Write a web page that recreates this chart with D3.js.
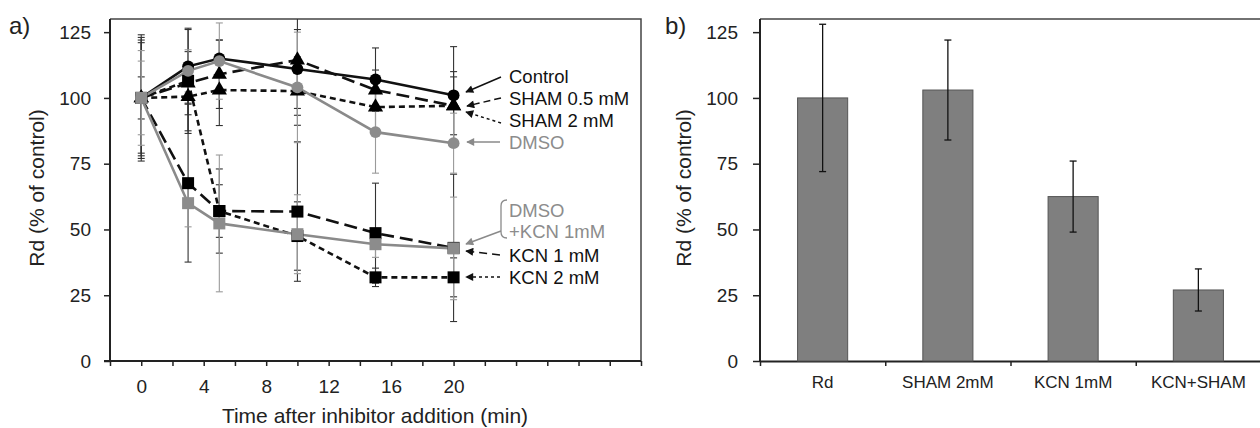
<!DOCTYPE html>
<html>
<head>
<meta charset="utf-8">
<script src="https://cdn.jsdelivr.net/npm/d3@7"></script>
<style>
  html, body { margin: 0; padding: 0; background: #fff; }
  svg { display: block; font-family: "Liberation Sans", Arial, sans-serif; }
</style>
</head>
<body>
<svg id="chart" width="1260" height="428"></svg>
<script>
// ---- Panel a: time course (mean and SD per treatment) ----
const times = [0, 3, 5, 10, 15, 20];

const controlMean = [100, 112, 115, 111, 107, 101];
const controlErr  = [22, 14, 7, 15, 12, 18.5];

const sham05Mean = [100, 105.6, 109, 114.4, 103, 97];
const sham05Err  = [24, 12, 13, 21, 7.6, 13];

const sham2Mean = [100, 100.5, 103, 102.6, 96.5, 97];
const sham2Err  = [21, 13, 13.5, 13, 10, 11];

const dmsoMean = [100, 110.3, 114, 104, 87, 82.8];
const dmsoErr  = [14, 8, 14.5, 21, 15.6, 11.4];

const kcn1Mean = [100, 67.6, 57, 56.8, 48.6, 43];
const kcn1Err  = [23, 30, 16, 26.5, 19, 28];

const kcn2Mean = [100, 106.5, 57, 47.5, 31.8, 31.8];
const kcn2Err  = [8, 20, 10, 13, 3.5, 7.4];

const dmsoKcnMean = [100, 60, 52.3, 48.2, 44.4, 42.8];
const dmsoKcnErr  = [18, 9, 26, 15, 5, 19.5];

const timeTicks = [0, 4, 8, 12, 16, 20];
const valueTicks = [0, 25, 50, 75, 100, 125];

// ---- Panel b: Rd after 20 min with inhibitors ----
const barCategories = ["Rd", "SHAM 2mM", "KCN 1mM", "KCN+SHAM"];
const barMeans = [100, 103, 62.5, 27];
const barErrs  = [28, 19, 13.5, 8];

const BLACK = "#111";
const GRAY = "#8a8a8a";

const series = [
  { name: "Control",        mean: controlMean, err: controlErr, color: BLACK, dash: null,     shape: "circle" },
  { name: "SHAM 0.5 mM",    mean: sham05Mean,  err: sham05Err,  color: BLACK, dash: "13,6",   shape: "triangle" },
  { name: "SHAM 2 mM",      mean: sham2Mean,   err: sham2Err,   color: BLACK, dash: "6,4",    shape: "triangle" },
  { name: "KCN 1 mM",       mean: kcn1Mean,    err: kcn1Err,    color: BLACK, dash: "13,6",   shape: "square" },
  { name: "KCN 2 mM",       mean: kcn2Mean,    err: kcn2Err,    color: BLACK, dash: "6,4",    shape: "square" },
  { name: "DMSO",           mean: dmsoMean,    err: dmsoErr,    color: GRAY,  dash: null,     shape: "circle" },
  { name: "DMSO+KCN 1mM",   mean: dmsoKcnMean, err: dmsoKcnErr, color: GRAY,  dash: null,     shape: "square" }
];

const svg = d3.select("#chart");
const FONT = "\"Liberation Sans\", Arial, sans-serif";

// arrowheads
const defs = svg.append("defs");
[["arrowBlack", BLACK], ["arrowGray", GRAY]].forEach(([id, c]) => {
  defs.append("marker")
    .attr("id", id)
    .attr("viewBox", "0 0 10 10")
    .attr("refX", 9).attr("refY", 5)
    .attr("markerWidth", 10).attr("markerHeight", 8)
    .attr("markerUnits", "userSpaceOnUse")
    .attr("orient", "auto")
    .append("path").attr("d", "M0,0 L10,5 L0,10 Z").attr("fill", c);
});

// ================= Panel a =================
const A = { left: 110, right: 641, top: 19, bottom: 361 };
const xA = d3.scaleLinear().domain([-2, 32]).range([A.left, A.right]);
const yA = d3.scaleLinear().domain([0, 130]).range([A.bottom, A.top]);

defs.append("clipPath").attr("id", "clipA")
  .append("rect").attr("x", A.left).attr("y", A.top)
  .attr("width", A.right - A.left).attr("height", A.bottom - A.top);

// frame (top + right)
svg.append("path")
  .attr("d", `M${A.left},${A.top} H${A.right} V${A.bottom}`)
  .attr("fill", "none").attr("stroke", "#444").attr("stroke-width", 1.5);

// y axis
const yAxisA = svg.append("g").attr("transform", `translate(${A.left},0)`)
  .call(d3.axisLeft(yA).tickValues(valueTicks).tickSizeInner(6).tickSizeOuter(0).tickPadding(13));
// x axis: ticks every 2 min, labels every 4 min
const xAxisA = svg.append("g").attr("transform", `translate(0,${A.bottom})`)
  .call(d3.axisBottom(xA).tickValues(d3.range(-2, 33, 2)).tickSizeInner(5).tickSizeOuter(0).tickPadding(14)
    .tickFormat(d => timeTicks.includes(d) ? d : ""));

[yAxisA, xAxisA].forEach(g => {
  g.select(".domain").attr("stroke", "#222").attr("stroke-width", 2);
  g.selectAll(".tick line").attr("stroke", "#222").attr("stroke-width", 1.5);
  g.selectAll("text").attr("font-family", FONT).attr("font-size", 19).attr("fill", "#222");
});
// the y axis line extends down to the x-axis tick level
yAxisA.select(".domain").attr("d", `M0,${A.top}V${A.bottom}`);
xAxisA.select(".domain").attr("d", `M${A.left - 6},0H${A.right}`);

svg.append("text")
  .attr("x", 375).attr("y", 423)
  .attr("text-anchor", "middle")
  .attr("font-family", FONT).attr("font-size", 21).attr("fill", "#222")
  .text("Time after inhibitor addition (min)");

svg.append("text")
  .attr("transform", "translate(44,188) rotate(-90)")
  .attr("text-anchor", "middle")
  .attr("font-family", FONT).attr("font-size", 21).attr("fill", "#222")
  .text("Rd (% of control)");

svg.append("text").attr("x", 9).attr("y", 34)
  .attr("font-family", FONT).attr("font-size", 24).attr("fill", "#222").text("a)");

const plotA = svg.append("g").attr("clip-path", "url(#clipA)");

// error bars
series.forEach(s => {
  const g = plotA.append("g")
    .attr("stroke", s.color === GRAY ? "#9a9a9a" : "#333")
    .attr("stroke-width", 1.1).attr("fill", "none");
  times.forEach((t, i) => {
    const cx = xA(t), hi = yA(s.mean[i] + s.err[i]), lo = yA(s.mean[i] - s.err[i]);
    g.append("line").attr("x1", cx).attr("x2", cx).attr("y1", hi).attr("y2", lo);
    g.append("line").attr("x1", cx - 3.5).attr("x2", cx + 3.5).attr("y1", hi).attr("y2", hi);
    g.append("line").attr("x1", cx - 3.5).attr("x2", cx + 3.5).attr("y1", lo).attr("y2", lo);
  });
});

// lines
const lineGen = d3.line().x((d, i) => xA(times[i])).y(d => yA(d));
series.forEach(s => {
  plotA.append("path")
    .datum(s.mean)
    .attr("d", lineGen)
    .attr("fill", "none")
    .attr("stroke", s.color)
    .attr("stroke-width", 2.6)
    .attr("stroke-dasharray", s.dash);
});

// markers
const symbolType = { circle: d3.symbolCircle, triangle: d3.symbolTriangle, square: d3.symbolSquare };
const symbolSize = { circle: 110, triangle: 100, square: 144 };
series.forEach(s => {
  const sym = d3.symbol().type(symbolType[s.shape]).size(symbolSize[s.shape]);
  plotA.append("g").selectAll("path")
    .data(s.mean)
    .join("path")
    .attr("transform", (d, i) => `translate(${xA(times[i])},${yA(d)})`)
    .attr("d", sym)
    .attr("fill", s.color === GRAY ? "#8c8c8c" : "#000");
});

// series labels with pointer arrows
const labelX = 509;
const notes = [
  { lines: ["Control"],           y: 76,  color: BLACK, dash: null,  from: [501, 77],  to: [466, 92] },
  { lines: ["SHAM 0.5 mM"],       y: 98,  color: BLACK, dash: "7,4", from: [501, 98],  to: [467, 106] },
  { lines: ["SHAM 2 mM"],         y: 120, color: BLACK, dash: "3,3", from: [501, 123], to: [466, 112] },
  { lines: ["DMSO"],              y: 142, color: GRAY,  dash: null,  from: [500, 142], to: [467, 142] },
  { lines: ["DMSO", "+KCN 1mM"],  y: 210, color: GRAY,  dash: null,  from: [501, 231], to: [466, 244] },
  { lines: ["KCN 1 mM"],          y: 255, color: BLACK, dash: "8,5", from: [500, 255], to: [466, 251] },
  { lines: ["KCN 2 mM"],          y: 277, color: BLACK, dash: "3,3", from: [500, 277], to: [466, 277] }
];
notes.forEach(n => {
  n.lines.forEach((ln, k) => {
    svg.append("text")
      .attr("x", labelX).attr("y", n.y + k * 21.5)
      .attr("dy", "0.36em")
      .attr("font-family", FONT).attr("font-size", 18.5)
      .attr("fill", n.color === GRAY ? "#8c8c8c" : "#111")
      .text(ln);
  });
  svg.append("line")
    .attr("x1", n.from[0]).attr("y1", n.from[1])
    .attr("x2", n.to[0]).attr("y2", n.to[1])
    .attr("stroke", n.color).attr("stroke-width", 1.5)
    .attr("stroke-dasharray", n.dash)
    .attr("marker-end", `url(#${n.color === GRAY ? "arrowGray" : "arrowBlack"})`);
});
// bracket grouping the two-line label
svg.append("path")
  .attr("d", "M507,200 Q501,200 501,206 L501,232 Q501,238 507,238")
  .attr("fill", "none").attr("stroke", GRAY).attr("stroke-width", 1.3);

// ================= Panel b =================
const B = { left: 760, right: 1261, top: 19, bottom: 361 };
const xB = d3.scaleBand().domain(barCategories).range([B.left, B.right]).paddingInner(0.6).paddingOuter(0.3);
const yB = d3.scaleLinear().domain([0, 130]).range([B.bottom, B.top]);

svg.append("path")
  .attr("d", `M${B.left},${B.top} H${B.right} V${B.bottom}`)
  .attr("fill", "none").attr("stroke", "#444").attr("stroke-width", 1.5);

const yAxisB = svg.append("g").attr("transform", `translate(${B.left},0)`)
  .call(d3.axisLeft(yB).tickValues(valueTicks).tickSizeInner(7).tickSizeOuter(0).tickPadding(15));
yAxisB.select(".domain").attr("d", `M0,${B.top}V${B.bottom}`);

// category boundary ticks
const boundary = d3.scaleLinear().domain([0, barCategories.length]).range([B.left, B.right]);
const xTickB = svg.append("g").attr("transform", `translate(0,${B.bottom})`)
  .call(d3.axisBottom(boundary).tickValues(d3.range(0, barCategories.length + 1)).tickSizeInner(5).tickSizeOuter(0).tickFormat(""));
// category labels
const xAxisB = svg.append("g").attr("transform", `translate(0,${B.bottom})`)
  .call(d3.axisBottom(xB).tickSize(0).tickPadding(15));
xAxisB.select(".domain").remove();
xAxisB.selectAll("text").attr("font-size", 17);

[yAxisB, xTickB].forEach(g => {
  g.select(".domain").attr("stroke", "#222").attr("stroke-width", 2);
  g.selectAll(".tick line").attr("stroke", "#222").attr("stroke-width", 1.5);
});
yAxisB.selectAll("text").attr("font-size", 19);
[yAxisB, xAxisB].forEach(g => g.selectAll("text").attr("font-family", FONT).attr("fill", "#222"));

svg.append("text")
  .attr("transform", "translate(691,188) rotate(-90)")
  .attr("text-anchor", "middle")
  .attr("font-family", FONT).attr("font-size", 21).attr("fill", "#222")
  .text("Rd (% of control)");

svg.append("text").attr("x", 665).attr("y", 34)
  .attr("font-family", FONT).attr("font-size", 24).attr("fill", "#222").text("b)");

// bars
svg.append("g").selectAll("rect")
  .data(barMeans)
  .join("rect")
  .attr("x", (d, i) => xB(barCategories[i]))
  .attr("y", d => yB(d))
  .attr("width", xB.bandwidth())
  .attr("height", d => yB(0) - yB(d))
  .attr("fill", "#7f7f7f")
  .attr("stroke", "#555")
  .attr("stroke-width", 1);

// error bars
const eb = svg.append("g").attr("stroke", "#111").attr("stroke-width", 1.3);
barMeans.forEach((m, i) => {
  const cx = xB(barCategories[i]) + xB.bandwidth() / 2;
  const hi = yB(m + barErrs[i]), lo = yB(m - barErrs[i]);
  eb.append("line").attr("x1", cx).attr("x2", cx).attr("y1", hi).attr("y2", lo);
  eb.append("line").attr("x1", cx - 3.5).attr("x2", cx + 3.5).attr("y1", hi).attr("y2", hi);
  eb.append("line").attr("x1", cx - 3.5).attr("x2", cx + 3.5).attr("y1", lo).attr("y2", lo);
});
</script>
</body>
</html>
